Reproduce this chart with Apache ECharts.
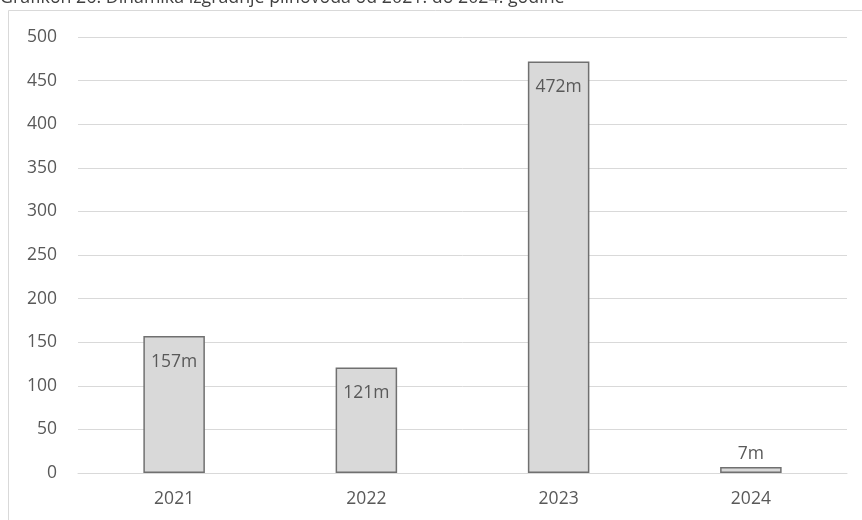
<!DOCTYPE html>
<html>
<head>
<meta charset="utf-8">
<script src="https://cdn.jsdelivr.net/npm/echarts@6/dist/echarts.min.js"></script>
<style>
html,body{margin:0;padding:0;background:#fff;}
#c{width:862px;height:520px;}
</style>
</head>
<body>
<div id="c"></div>
<script>
const titleText = 'Grafikon 26: Dinamika izgradnje plinovoda od 2021. do 2024. godine';
const categories = ['2021', '2022', '2023', '2024'];
const values = [157, 121, 472, 7];
const yTicks = { min: 0, max: 500, interval: 50 };

const chart = echarts.init(document.getElementById('c'), null, { renderer: 'canvas' });
const font = '"Open Sans", "Noto Sans", sans-serif';
chart.setOption({
  animation: false,
  backgroundColor: '#fff',
  textStyle: { fontFamily: font },
  graphic: [
    { type: 'rect', shape: { x: 8.5, y: 10.5, width: 870, height: 530 },
      style: { fill: 'none', stroke: '#d9d9d9', lineWidth: 1 }, z: -1 },
    { type: 'text', left: 0, top: -11,
      style: { text: titleText, fontSize: 17.8, fill: '#404040', fontFamily: font } }
  ],
  grid: { left: 78, right: 15, top: 37, bottom: 47 },
  xAxis: {
    type: 'category',
    data: categories,
    axisLine: { show: true, lineStyle: { color: '#d9d9d9', width: 1 } },
    axisTick: { show: false },
    axisLabel: { color: '#595959', fontSize: 17.5, margin: 17, fontFamily: font }
  },
  yAxis: {
    type: 'value',
    min: yTicks.min, max: yTicks.max, interval: yTicks.interval,
    axisLine: { show: false },
    axisTick: { show: false },
    splitLine: { lineStyle: { color: '#d9d9d9', width: 1 } },
    axisLabel: { color: '#595959', fontSize: 17.5, margin: 21, fontFamily: font }
  },
  series: [{
    type: 'bar',
    barWidth: '32%',
    data: values.map(v => ({
      value: v,
      label: { position: v < 40 ? 'top' : 'insideTop', distance: v < 40 ? 4 : 17 }
    })),
    itemStyle: { color: '#d9d9d9', borderColor: '#707070', borderWidth: 1.5 },
    label: {
      show: true,
      formatter: p => p.value + 'm',
      color: '#595959', fontSize: 17.5, fontFamily: font
    }
  }]
});
</script>
</body>
</html>
